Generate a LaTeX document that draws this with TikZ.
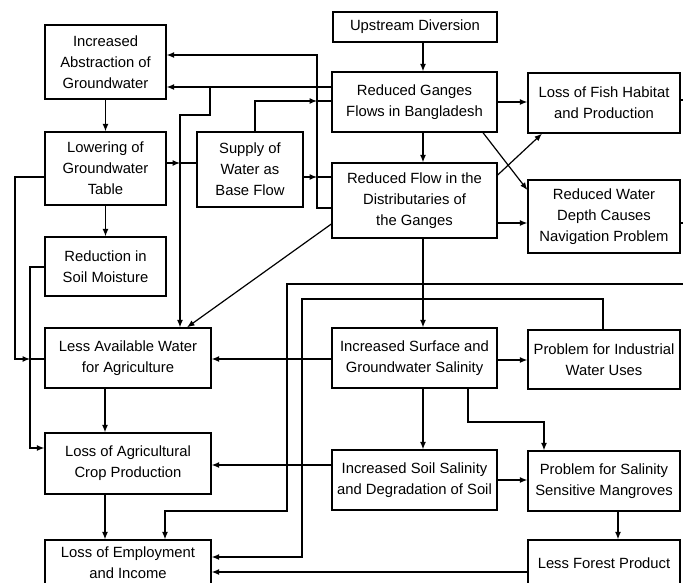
\documentclass[tikz,border=0pt]{standalone}
\usepackage{fontspec}
\setmainfont{Liberation Sans}
\usetikzlibrary{arrows.meta}
\begin{document}
\begin{tikzpicture}[x=1pt,y=-1pt,
  box/.style={draw,line width=1.3pt,align=center,inner sep=0pt,font=\fontsize{14.8}{21}\selectfont},
  ln/.style={line width=1.2pt},
  arr/.style={ln,-{Latex[length=7.5pt,width=6pt]}}]
\useasboundingbox (0,0) rectangle (683,582);
\foreach \x in {15,30,105,165,180,187,210,255,287,302,317,423,468,483,542,544,603,618,690}
  \coordinate (v\x) at (\x,0);
\foreach \y in {55,87,100,101,115,163,175,177,190,208,223,224,267,284,299,359,360,422,448,465,480,511,557,572}
  \coordinate (h\y) at (0,\y);
% boxes
\node[box,minimum width=164pt,minimum height=30pt] (up) at (415,27) {Upstream Diversion};
\node[box,minimum width=121pt,minimum height=74pt] (abs) at (105.5,62) {Increased\\Abstraction of\\Groundwater};
\node[box,minimum width=165pt,minimum height=60pt] (rg) at (414.5,102) {Reduced Ganges\\Flows in Bangladesh};
\node[box,minimum width=152pt,minimum height=60pt] (fish) at (604,103) {Loss of Fish Habitat\\and Production};
\node[box,minimum width=165pt,minimum height=75pt] (rf) at (414.5,200.5) {Reduced Flow in the\\Distributaries of\\the Ganges};
\node[box,minimum width=152pt,minimum height=73pt] (depth) at (604,216.5) {Reduced Water\\Depth Causes\\Navigation Problem};
\node[box,minimum width=121pt,minimum height=73pt] (low) at (105.5,168.5) {Lowering of\\Groundwater\\Table};
\node[box,minimum width=106pt,minimum height=75pt] (sup) at (250,169.5) {Supply of\\Water as\\Base Flow};
\node[box,minimum width=121pt,minimum height=59pt] (soil) at (105.5,266.5) {Reduction in\\Soil Moisture};
\node[box,minimum width=166pt,minimum height=60pt] (law) at (128,358) {Less Available Water\\for Agriculture};
\node[box,minimum width=166pt,minimum height=61pt] (lac) at (128,463.5) {Loss of Agricultural\\Crop Production};
\node[box,minimum width=166pt,minimum height=46pt] (emp) at (128,563) {Loss of Employment\\and Income};
\node[box,minimum width=165pt,minimum height=60pt] (inc) at (414.5,358) {Increased Surface and\\Groundwater Salinity};
\node[box,minimum width=152pt,minimum height=59pt] (ind) at (604,359.5) {Problem for Industrial\\Water Uses};
\node[box,minimum width=165pt,minimum height=60pt] (isal) at (414.5,480) {Increased Soil Salinity\\and Degradation of Soil};
\node[box,minimum width=152pt,minimum height=60pt] (mang) at (604,481) {Problem for Salinity\\Sensitive Mangroves};
\node[box,minimum width=152pt,minimum height=46pt] (forest) at (604,563) {Less Forest Product};
% connectors
\draw[arr] (up.south -| v423) -- (rg.north -| v423);
\draw[arr] (rg.south -| v423) -- (rf.north -| v423);
\draw[arr] (rf.south -| v423) -- (inc.north -| v423);
\draw[arr] (inc.south -| v423) -- (isal.north -| v423);
\draw[arr] (rg.east) -- (rg.east -| fish.west);
\draw[arr] (rf.east |- h223) -- (depth.west |- h223);
\draw[arr] (v483 |- rg.south) -- (depth.west |- h190);
\draw[arr] (rf.east |- h175) -- (v542 |- fish.south);
\draw[arr] (rg.west |- h87) -- (abs.east |- h87);
\draw[arr] (v210 |- h87) -- (v210 |- h115) -- (v180 |- h115) -- (v180 |- law.north);
\draw[arr] (rf.west |- h208) -- (v317 |- h208) -- (v317 |- h55) -- (abs.east |- h55);
\draw[arr] (v255 |- sup.north) -- (v255 |- h101) -- (v317 |- h101);
\draw[ln] (v317 |- h101) -- (rg.west |- h101);
\draw[arr] (sup.east |- h177) -- (v317 |- h177);
\draw[ln] (v317 |- h177) -- (rf.west |- h177);
\draw[arr] (low.east |- h163) -- (v180 |- h163);
\draw[ln] (v180 |- h163) -- (sup.west |- h163);
\draw[arr] (abs.south) -- (low.north);
\draw[arr] (low.south) -- (soil.north);
\draw[arr] (law.south -| v105) -- (lac.north -| v105);
\draw[arr] (lac.south -| v105) -- (emp.north -| v105);
\draw[arr] (low.west |- h177) -- (v15 |- h177) -- (v15 |- h359) -- (v30 |- h359);
\draw[ln] (v30 |- h359) -- (law.west |- h359);
\draw[arr] (soil.west |- h267) -- (v30 |- h267) -- (v30 |- h448) -- (lac.west |- h448);
\draw[arr] (rf.west |- h224) -- (v187 |- law.north);
\draw[arr] (inc.west |- h359) -- (law.east |- h359);
\draw[arr] (isal.west |- h465) -- (lac.east |- h465);
\draw[arr] (inc.east |- h360) -- (ind.west |- h360);
\draw[arr] (isal.east |- h480) -- (mang.west |- h480);
\draw[arr] (v468 |- inc.south) -- (v468 |- h422) -- (v544 |- h422) -- (v544 |- mang.north);
\draw[arr] (v618 |- mang.south) -- (v618 |- forest.north);
\draw[arr] (fish.east |- h100) -- (v690 |- h100) -- (v690 |- h284) -- (v287 |- h284) -- (v287 |- h511) -- (v165 |- h511) -- (v165 |- emp.north);
\draw[ln] (depth.east |- h223) -- (v690 |- h223);
\draw[arr] (v603 |- ind.north) -- (v603 |- h299) -- (v302 |- h299) -- (v302 |- h557) -- (emp.east |- h557);
\draw[arr] (forest.west |- h572) -- (emp.east |- h572);
\end{tikzpicture}
\end{document}
